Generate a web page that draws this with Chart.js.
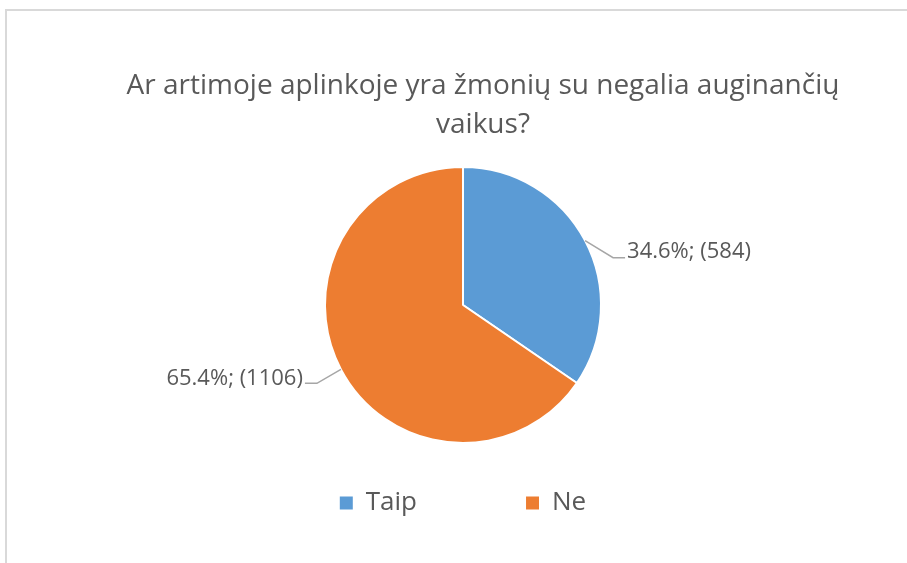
<!DOCTYPE html>
<html>
<head>
<meta charset="utf-8">
<script src="https://cdn.jsdelivr.net/npm/chart.js@4"></script>
<style>
  html, body { margin: 0; padding: 0; background: #fff; }
  #wrap { position: relative; width: 907px; height: 563px; overflow: hidden; }
  #frame { position: absolute; left: 5px; top: 9px; right: -10px; bottom: -10px;
           border-left: 2px solid #d9d9d9; border-top: 2px solid #d9d9d9; }
  #pieChart { position: absolute; left: 0; top: 0; }
</style>
</head>
<body>
<div id="wrap">
  <div id="frame"></div>
  <canvas id="pieChart" width="907" height="563"></canvas>
</div>
<script>
// Datos del gráfico
var categories = ['Taip', 'Ne'];
var counts = [584, 1106];
var sliceColors = ['#5B9BD5', '#ED7D31'];
var titleLines = ['Ar artimoje aplinkoje yra žmonių su negalia auginančių', 'vaikus?'];

var textColor = '#595959';
var fontFamily = '"Open Sans", sans-serif';

// desplazamiento del codo de cada línea guía respecto al borde del sector
var leaderOffsets = [{ dx: 28, dy: 17, ty: -6 }, { dx: -24, dy: 14, ty: -5 }];

// Etiquetas con líneas guía
var sliceLabels = {
    id: 'sliceLabels',
    afterDatasetsDraw: function(chart) {
        var ctx = chart.ctx;
        var meta = chart.getDatasetMeta(0);
        var values = chart.data.datasets[0].data;
        var total = values.reduce(function(a, b) { return a + b; }, 0);
        ctx.save();
        meta.data.forEach(function(arc, i) {
            var p = arc.getProps(['x', 'y', 'startAngle', 'endAngle', 'outerRadius'], true);
            var mid = (p.startAngle + p.endAngle) / 2;
            var ax = p.x + Math.cos(mid) * p.outerRadius;
            var ay = p.y + Math.sin(mid) * p.outerRadius;
            var right = Math.cos(mid) >= 0;
            var off = leaderOffsets[i];
            var ex = ax + off.dx, ey = ay + off.dy;
            var endX = ex + (right ? 12 : -12);
            ctx.strokeStyle = '#a6a6a6';
            ctx.lineWidth = 1.5;
            ctx.beginPath();
            ctx.moveTo(ax, ay);
            ctx.lineTo(ex, ey);
            ctx.lineTo(endX, ey);
            ctx.stroke();
            var pct = (values[i] / total * 100).toFixed(1) + '%; (' + values[i] + ')';
            ctx.fillStyle = textColor;
            ctx.font = '22px ' + fontFamily;
            ctx.textAlign = right ? 'left' : 'right';
            ctx.textBaseline = 'middle';
            ctx.fillText(pct, endX + (right ? 2 : -2), ey + off.ty);
        });
        ctx.restore();
    }
};

// el título está algo más a la derecha que el gráfico
var titleShift = {
    id: 'titleShift',
    afterLayout: function(chart) {
        if (chart.titleBlock) {
            chart.titleBlock.left += 20;
            chart.titleBlock.right += 20;
        }
    }
};

document.addEventListener("DOMContentLoaded", function() {
    new Chart(document.getElementById('pieChart'), {
        type: 'pie',
        data: {
            labels: categories,
            datasets: [{
                data: counts,
                backgroundColor: sliceColors,
                borderColor: '#ffffff',
                borderWidth: 2,
                radius: 138
            }]
        },
        options: {
            responsive: false,
            animation: false,
            events: [],
            layout: { padding: { left: 19, right: 0, top: 0, bottom: 37 } },
            plugins: {
                tooltip: { enabled: false },
                title: {
                    display: true,
                    text: titleLines,
                    color: textColor,
                    font: { family: fontFamily, size: 28, weight: 'normal', lineHeight: '39px' },
                    padding: { top: 66.5, bottom: 84.5 }
                },
                legend: {
                    display: true,
                    position: 'bottom',
                    labels: {
                        color: textColor,
                        font: { family: fontFamily, size: 26 },
                        boxWidth: 13,
                        boxHeight: 13,
                        padding: 109,
                        generateLabels: function(chart) {
                            var items = Chart.overrides.pie.plugins.legend.labels.generateLabels(chart);
                            items.forEach(function(it) { it.lineWidth = 0; });
                            return items;
                        }
                    }
                }
            }
        },
        plugins: [sliceLabels, titleShift]
    });
});
</script>
</body>
</html>
